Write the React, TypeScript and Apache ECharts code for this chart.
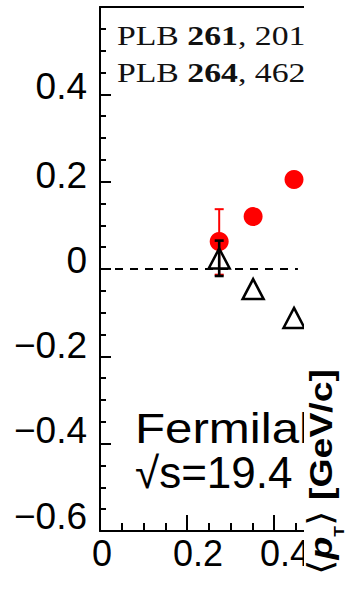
import React, { useEffect, useRef } from 'react';
import * as echarts from 'echarts';

// ---- data ----
const xPositions = [0.274, 0.352, 0.446];
const redValues = [0.063, 0.12, 0.205];
const blackValues = [0.024, -0.046, -0.112];
// [x, low, high]
const redErrors = [[0.274, -0.013, 0.137]];
const blackErrors = [[0.274, -0.016, 0.065]];
const zeroLine = [[0, 0], [0.455, 0]];
const xTickLabels = ['0', '0.2', '0.4'];
const yTickLabels = ['−0.6', '−0.4', '−0.2', '0', '0.2', '0.4'];
const expName = 'Fermilab';
const energyText = '√s=19.4';

const SANS = '"Liberation Sans", Arial, sans-serif';
const SERIF = '"Liberation Serif", "Times New Roman", serif';

const yShift: Record<string, number> = {
  '0.4': 8, '0.2': 6, '0': 9, '−0.2': 11, '−0.4': 13, '−0.6': 15,
};
const xShift: Record<string, number> = { '0': 4, '0.2': 22, '0.4': 22 };

function fmt(v: number): string {
  const r = Math.round(v * 100) / 100;
  if (Math.abs(r) < 1e-9) return '0';
  return String(r).replace('-', '−');
}

function makeErrRender(color: string, width: number, capHalf: number) {
  return (params: any, api: any) => {
    const x = api.value(0);
    const lo = api.coord([x, api.value(1)]);
    const hi = api.coord([x, api.value(2)]);
    const st = { stroke: color, lineWidth: width };
    return {
      type: 'group',
      children: [
        { type: 'line', shape: { x1: lo[0], y1: lo[1], x2: hi[0], y2: hi[1] }, style: st },
        { type: 'line', shape: { x1: lo[0] - capHalf, y1: lo[1], x2: lo[0] + capHalf, y2: lo[1] }, style: st },
        { type: 'line', shape: { x1: hi[0] - capHalf, y1: hi[1], x2: hi[0] + capHalf, y2: hi[1] }, style: st },
      ],
    };
  };
}

export default function App() {
  const ref = useRef<HTMLDivElement>(null);
  useEffect(() => {
    if (!ref.current) return;
    const chart = echarts.init(ref.current, undefined, { renderer: 'svg' });

    const yRich: Record<string, any> = {};
    yTickLabels.forEach((t, i) => {
      yRich['y' + i] = { fontSize: 37, fontFamily: SANS, color: '#000', padding: [0, 0, 2 * (yShift[t] || 0), 0] };
    });
    const xRich: Record<string, any> = {};
    xTickLabels.forEach((t, i) => {
      xRich['x' + i] = { fontSize: 36, fontFamily: SANS, color: '#000', padding: [0, 0, 0, xShift[t] || 0] };
    });

    const axisLine = { show: true, onZero: false, lineStyle: { color: '#000', width: 2 } };
    const plbRich = {
      n: { fontFamily: SERIF, fontSize: 27, fill: '#111' },
      b: { fontFamily: SERIF, fontSize: 27, fontWeight: 'bold', fill: '#111' },
    };

    chart.setOption({
      animation: false,
      backgroundColor: '#fff',
      grid: { left: 100, right: 28.5, top: 7, bottom: 62, containLabel: false },
      xAxis: [
        {
          type: 'value', min: 0, max: 0.5, interval: 0.2, position: 'bottom',
          axisLine,
          axisTick: { show: true, inside: true, length: 16, lineStyle: { color: '#000', width: 2 } },
          minorTick: { show: true, splitNumber: 4, length: 8, lineStyle: { color: '#000', width: 2 } },
          splitLine: { show: false },
          axisLabel: {
            margin: 4,
            formatter: (v: number) => {
              const t = fmt(v);
              const i = xTickLabels.indexOf(t);
              return i < 0 ? '' : `{x${i}|${t}}`;
            },
            rich: xRich,
          },
        },
        {
          type: 'value', min: 0, max: 0.5, position: 'top',
          axisLine, axisTick: { show: false }, axisLabel: { show: false }, splitLine: { show: false },
        },
      ],
      yAxis: {
        type: 'value', min: -0.6, max: 0.6, interval: 0.2,
        axisLine,
        axisTick: { show: true, inside: true, length: 11, lineStyle: { color: '#000', width: 2 } },
        minorTick: { show: true, splitNumber: 4, length: 6, lineStyle: { color: '#000', width: 2 } },
        splitLine: { show: false },
        axisLabel: {
          margin: 13,
          formatter: (v: number) => {
            const t = fmt(v);
            const i = yTickLabels.indexOf(t);
            return i < 0 ? '' : `{y${i}|${t}}`;
          },
          rich: yRich,
        },
      },
      series: [
        {
          type: 'line', data: zeroLine, symbol: 'none', z: 1,
          lineStyle: { color: '#000', width: 2.2, type: [8, 7] },
        },
        {
          type: 'custom', data: redErrors, renderItem: makeErrRender('#ff0000', 2, 4.5), z: 2,
        },
        {
          type: 'scatter', data: xPositions.map((x, i) => [x, redValues[i]]),
          symbol: 'circle', symbolSize: 19, itemStyle: { color: '#ff0000', opacity: 1 }, z: 3,
        },
        {
          type: 'scatter', data: xPositions.map((x, i) => [x, blackValues[i]]),
          symbol: 'triangle', symbolSize: [21, 20],
          itemStyle: { color: 'rgba(0,0,0,0)', borderColor: '#000', borderWidth: 2.5, opacity: 1 }, z: 4,
        },
        {
          type: 'custom', data: blackErrors, renderItem: makeErrRender('#000', 2.6, 4.5), z: 5,
        },
      ],
      graphic: [
        {
          type: 'text', x: 117, y: 36, z: 50, scaleX: 1.25,
          style: { text: `{n|PLB }{b|261}{n|, 201}`, verticalAlign: 'middle', align: 'left', rich: plbRich },
        },
        {
          type: 'text', x: 117, y: 73, z: 50, scaleX: 1.25,
          style: { text: `{n|PLB }{b|264}{n|, 462}`, verticalAlign: 'middle', align: 'left', rich: plbRich },
        },
        {
          type: 'text', x: 135, y: 428, z: 50, scaleX: 1.145,
          style: { text: expName, fontFamily: SANS, fontSize: 43, fill: '#000', verticalAlign: 'middle', align: 'left' },
        },
        {
          type: 'text', x: 135, y: 472, z: 50,
          style: { text: energyText, fontFamily: SANS, fontSize: 44, fill: '#000', verticalAlign: 'middle', align: 'left' },
        },
        {
          type: 'rect', z: 100, shape: { x: 304, y: 0, width: 42, height: 593 },
          style: { fill: '#fff' },
        },
        {
          type: 'text', x: 321, y: 472, z: 110, rotation: Math.PI / 2, scaleX: 1.17,
          style: {
            text: '{br|⟨}{p|p}{sub|T}{br|⟩}{t| [GeV/c]}',
            align: 'center', verticalAlign: 'middle',
            rich: {
              br: { fontFamily: '"DejaVu Sans", sans-serif', fontSize: 34, lineHeight: 50, fill: '#000' },
              p: { fontFamily: SANS, fontSize: 32, fontWeight: 'bold', fontStyle: 'italic', lineHeight: 50, fill: '#000' },
              sub: { fontFamily: SANS, fontSize: 15, fontWeight: 'bold', lineHeight: 15, fill: '#000', verticalAlign: 'bottom' },
              t: { fontFamily: SANS, fontSize: 32, fontWeight: 'bold', lineHeight: 50, fill: '#000' },
            },
          },
        },
      ],
    });
    return () => chart.dispose();
  }, []);
  return <div ref={ref} style={{ position: 'fixed', left: 0, top: 0, width: 346, height: 593 }} />;
}
